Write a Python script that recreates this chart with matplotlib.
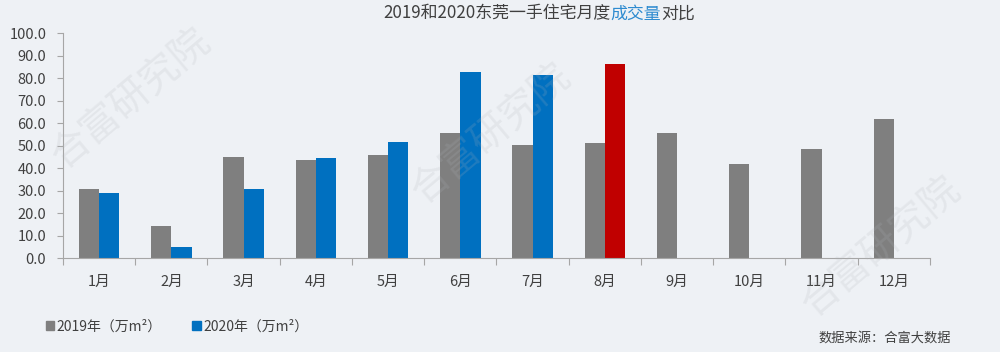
import numpy as np
import matplotlib
matplotlib.use("Agg")
import matplotlib.pyplot as plt
from matplotlib.patches import Patch

plt.rcParams['font.family'] = ['Noto Sans CJK SC', 'DejaVu Sans']

# data (万m²)
months = ["1月", "2月", "3月", "4月", "5月", "6月", "7月", "8月", "9月", "10月", "11月", "12月"]
vol_2019 = [30.5, 14.2, 44.7, 43.7, 45.9, 55.4, 50.2, 51.2, 55.5, 41.8, 48.5, 61.8]
vol_2020 = [29.0, 4.7, 30.5, 44.3, 51.7, 82.5, 81.5, 86.1]
yticks = np.arange(0, 101, 10)

bg = "#eef1f5"
grey = "#7f7f7f"
blue = "#0070c0"
red = "#c00000"
txt = "#404040"

fig = plt.figure(figsize=(10, 3.52), dpi=100, facecolor=bg)
ax = fig.add_axes([0.063, 0.267, 0.867, 0.639])
ax.set_facecolor(bg)

x = np.arange(len(months))
w = 0.28
ax.bar(x - w / 2, vol_2019, width=w, color=grey)
colors_2020 = [blue] * (len(vol_2020) - 1) + [red]
ax.bar(x[:len(vol_2020)] + w / 2, vol_2020, width=w, color=colors_2020)

ax.set_xlim(-0.5, len(months) - 0.5)
ax.set_ylim(0, 100)
ax.set_yticks(yticks)
ax.set_yticklabels([f"{v:.1f}" for v in yticks])

ax.set_xticks(np.arange(-0.5, len(months), 1))
ax.set_xticklabels([])
ax.set_xticks(x, minor=True)
ax.set_xticklabels(months, minor=True)
ax.tick_params(axis="x", which="major", length=5, color="#a6a6a6", direction="out")
ax.tick_params(axis="x", which="minor", length=0, pad=12, labelsize=10.5, labelcolor=txt)
ax.tick_params(axis="y", length=4, color="#a6a6a6", pad=8, labelsize=10.5, labelcolor=txt)

for s in ["top", "right"]:
    ax.spines[s].set_visible(False)
for s in ["left", "bottom"]:
    ax.spines[s].set_color("#a6a6a6")

# legend
handles = [Patch(color=grey, label="2019年（万m²）"), Patch(color=blue, label="2020年（万m²）")]
fig.legend(handles=handles, loc="center left", bbox_to_anchor=(0.033, 0.072), ncol=2,
           frameon=False, handlelength=0.6, handleheight=0.6, handletextpad=0.2,
           columnspacing=2.2, prop={"size": 10}, labelcolor=txt)

# source note
fig.text(0.818, 0.04, "数据来源：合富大数据", fontsize=9.5, color=txt, ha="left", va="center")

# title with highlighted word
fig.canvas.draw()
r = fig.canvas.get_renderer()
parts = [("2019和2020东莞一手住宅月度", txt), ("成交量", "#2e8bd0"), ("对比", txt)]
xpos = 0.383
for s, c in parts:
    t = fig.text(xpos, 0.962, s, fontsize=12.2, color=c, ha="left", va="center")
    bb = t.get_window_extent(renderer=r)
    xpos += bb.width / fig.bbox.width

# faint watermarks
for (wx, wy) in [(0.13, 0.72), (0.49, 0.62), (0.88, 0.3)]:
    fig.text(wx, wy, "合富研究院", fontsize=28, color="#b0b4ba", alpha=0.18,
             rotation=40, ha="center", va="center")

fig.savefig("out.png", dpi=100, facecolor=bg)
